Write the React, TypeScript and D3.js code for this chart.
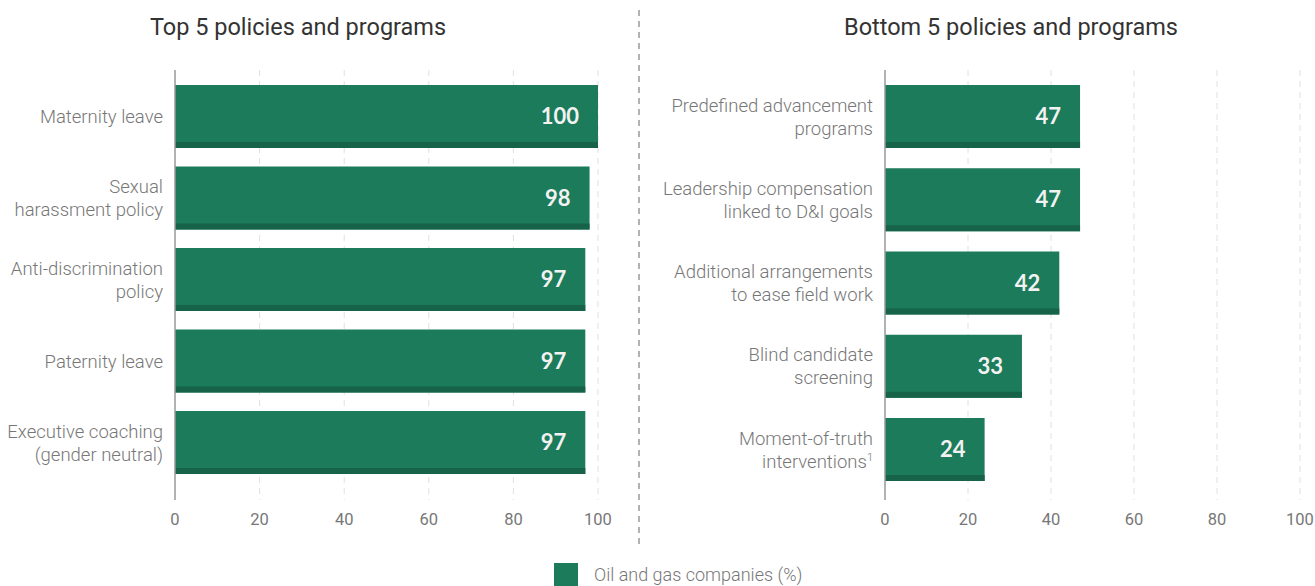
import React from "react";
import * as d3 from "d3";

const topCategories = [
  ["Maternity leave"],
  ["Sexual", "harassment policy"],
  ["Anti-discrimination", "policy"],
  ["Paternity leave"],
  ["Executive coaching", "(gender neutral)"],
];
const topValues = [100, 98, 97, 97, 97];

const bottomCategories = [
  ["Predefined advancement", "programs"],
  ["Leadership compensation", "linked to D&I goals"],
  ["Additional arrangements", "to ease field work"],
  ["Blind candidate", "screening"],
  ["Moment-of-truth", "interventions|1"],
];
const bottomValues = [47, 47, 42, 33, 24];

const tickValues = [0, 20, 40, 60, 80, 100];
const titles = ["Top 5 policies and programs", "Bottom 5 policies and programs"];
const legendLabel = "Oil and gas companies (%)";

const BAR = "#1b7b5a";
const BAR_DARK = "#166349";
const LABEL = "#777777";
const FONT = "Roboto, 'Noto Sans', sans-serif";

type PanelProps = {
  cats: string[][];
  vals: number[];
  x0: number;
  x1: number;
  y0: number;
  y1: number;
  title: string;
  titleX: number;
};

function Panel({ cats, vals, x0, x1, y0, y1, title, titleX }: PanelProps) {
  const x = d3.scaleLinear().domain([0, 100]).range([x0, x1]);
  const keys = cats.map((c) => c.join(" "));
  const bandwidth = 63;
  const step = (y1 - y0 - bandwidth) / (keys.length - 1);
  const y = d3
    .scaleBand()
    .domain(keys)
    .range([y0, y1])
    .paddingInner(1 - bandwidth / step)
    .paddingOuter(0);
  const gridTop = 70;
  const gridBottom = 500;
  return (
    <g>
      <text x={titleX} y={35} textAnchor="middle" fontSize={23.5} fill="#333" fontFamily={FONT}>
        {title}
      </text>
      {tickValues.slice(1).map((t) => (
        <line key={t} x1={x(t)} x2={x(t)} y1={gridTop} y2={gridBottom} stroke="#e0e0e0" strokeWidth={1} strokeDasharray="6,5" />
      ))}
      {keys.map((k, i) => {
        const by = y(k)!;
        const bw = x(vals[i]) - x(0);
        const cy = by + y.bandwidth() / 2;
        const lines = cats[i];
        const lh = 23;
        return (
          <g key={k}>
            <rect x={x(0)} y={by} width={bw} height={y.bandwidth()} fill={BAR} />
            <rect x={x(0)} y={by + y.bandwidth() - 6} width={bw} height={6} fill={BAR_DARK} />
            <text x={x(vals[i]) - 19} y={cy + 7.5} textAnchor="end" fontSize={22} fontWeight={700} fill="#f2f2f2" fontFamily="Lato, 'Open Sans', sans-serif">
              {vals[i]}
            </text>
            {lines.map((ln, j) => {
              const ty = cy + (j - (lines.length - 1) / 2) * lh + 6.5;
              const [main, sup] = ln.split("|");
              return (
                <text key={j} x={x(0) - 12} y={ty} textAnchor="end" fontSize={18.5} fill={LABEL} fontFamily={FONT} fontWeight={300}>
                  {main}
                  {sup ? (
                    <tspan fontSize={11} dy={-7}>
                      {sup}
                    </tspan>
                  ) : null}
                </text>
              );
            })}
          </g>
        );
      })}
      <line x1={x(0)} x2={x(0)} y1={gridTop} y2={gridBottom} stroke="#999" strokeWidth={1.5} />
      {tickValues.map((t) => (
        <text key={t} x={x(t)} y={525} textAnchor="middle" fontSize={16.5} fill={LABEL} fontFamily={FONT}>
          {t}
        </text>
      ))}
    </g>
  );
}

export default function App() {
  return (
    <svg width={1315} height={586} style={{ position: "absolute", left: 0, top: 0, background: "#fff" }}>
      <Panel cats={topCategories} vals={topValues} x0={175} x1={598} y0={85} y1={474} title={titles[0]} titleX={298} />
      <Panel cats={bottomCategories} vals={bottomValues} x0={885} x1={1300} y0={85} y1={481} title={titles[1]} titleX={1011} />
      <line x1={639} x2={639} y1={10} y2={545} stroke="#999" strokeWidth={1.5} strokeDasharray="6,5" />
      <rect x={554} y={563} width={24} height={23} fill={BAR} />
      <text x={594} y={581} fontSize={18} fill={LABEL} fontFamily={FONT} fontWeight={300}>
        {legendLabel}
      </text>
    </svg>
  );
}
